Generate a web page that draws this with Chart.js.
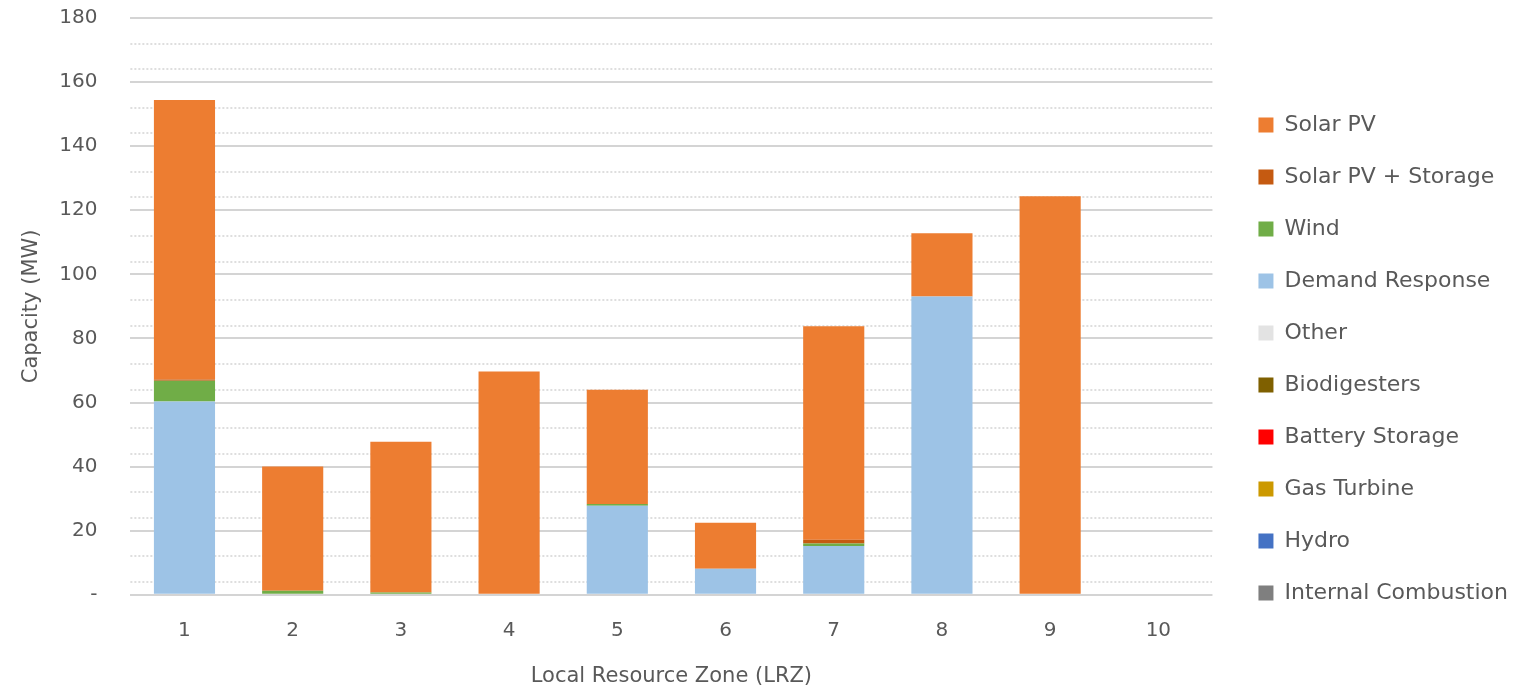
<!DOCTYPE html>
<html>
<head>
<meta charset="utf-8">
<script src="https://cdn.jsdelivr.net/npm/chart.js@4.4.1/dist/chart.umd.min.js"></script>
<style>
  html, body { margin: 0; padding: 0; background: #ffffff; }
  #wrap { width: 1515px; height: 693px; position: relative; }
</style>
</head>
<body>
<div id="wrap"><canvas id="c" width="1515" height="693"></canvas></div>
<script>
// ---- Data ----
const zones = ['1', '2', '3', '4', '5', '6', '7', '8', '9', '10'];

const internalCombustion = [0, 0, 0, 0, 0, 0, 0, 0, 0, 0];
const hydro              = [0, 0, 0, 0, 0, 0, 0, 0, 0, 0];
const gasTurbine         = [0, 0, 0, 0, 0, 0, 0, 0, 0, 0];
const batteryStorage     = [0, 0, 0, 0, 0, 0, 0, 0, 0, 0];
const biodigesters       = [0, 0, 0, 0, 0, 0, 0, 0, 0, 0];
const other              = [0, 0, 0, 0, 0, 0, 0, 0, 0, 0];
const demandResponse     = [60.3, 0, 0, 0, 27.8, 8.1, 15.2, 93.1, 0, 0];
const wind               = [6.5, 1.3, 0.7, 0, 0.5, 0, 0.8, 0, 0, 0];
const solarPvStorage     = [0.4, 0, 0, 0, 0, 0, 1.2, 0, 0, 0];
const solarPv            = [87.2, 38.7, 47.1, 69.7, 35.7, 14.4, 66.6, 19.7, 124.4, 0];

const yTickMax = 180;
const yTickStep = 20;
const yMinorStep = 4;

// ---- Style ----
const FONT = "'DejaVu Sans', 'Open Sans', sans-serif";
const TXT = '#595959';
const LEGEND_SHIFT_X = 16;
const LEGEND_SHIFT_Y = 10;

const series = [
  ['Internal Combustion', internalCombustion, '#7f7f7f'],
  ['Hydro', hydro, '#4472c4'],
  ['Gas Turbine', gasTurbine, '#cc9900'],
  ['Battery Storage', batteryStorage, '#ff0000'],
  ['Biodigesters', biodigesters, '#7f6000'],
  ['Other', other, '#e3e3e3'],
  ['Demand Response', demandResponse, '#9dc3e6'],
  ['Wind', wind, '#70ad47'],
  ['Solar PV + Storage', solarPvStorage, '#c55a11'],
  ['Solar PV', solarPv, '#ed7d31']
];

const datasets = series.map(([label, data, color]) => ({
  label, data,
  backgroundColor: color,
  borderWidth: 0,
  barPercentage: 0.565,
  categoryPercentage: 1.0
}));

const legendShift = {
  id: 'legendShift',
  afterLayout(chart) {
    const lg = chart.legend;
    if (!lg) return;
    lg.left += LEGEND_SHIFT_X; lg.right += LEGEND_SHIFT_X;
    lg.top += LEGEND_SHIFT_Y; lg.bottom += LEGEND_SHIFT_Y;
  }
};

function isMajor(v) { return Math.abs(v % yTickStep) < 1e-6; }
function pos(v) { return ((v % yTickStep) + yTickStep) % yTickStep; }
const CLEAR = 'rgba(0,0,0,0)';

new Chart(document.getElementById('c'), {
  type: 'bar',
  data: { labels: zones, datasets },
  plugins: [legendShift],
  options: {
    responsive: false,
    animation: false,
    devicePixelRatio: 1,
    layout: { padding: { left: 8, right: 13, top: 5, bottom: 0 } },
    plugins: {
      tooltip: { enabled: false },
      legend: {
        position: 'right',
        align: 'center',
        reverse: true,
        maxWidth: 340,
        labels: {
          boxWidth: 15, boxHeight: 15, padding: 30,
          color: TXT,
          font: { family: FONT, size: 22 }
        }
      }
    },
    scales: {
      x: {
        stacked: true,
        grid: { display: true, drawOnChartArea: false, drawTicks: true, tickLength: 20, tickColor: CLEAR, color: CLEAR },
        border: { display: false },
        ticks: { color: TXT, font: { family: FONT, size: 20 }, padding: 4 },
        title: {
          display: true, text: 'Local Resource Zone (LRZ)',
          color: TXT, font: { family: FONT, size: 21 },
          padding: { top: 17, bottom: 4 }
        }
      },
      y: {
        stacked: true,
        min: 0, max: yTickMax,
        border: { display: false },
        grid: {
          drawTicks: true,
          tickLength: 27,
          tickColor: CLEAR,
          color: (ctx) => {
            const v = ctx.tick ? ctx.tick.value : 0;
            if (isMajor(v)) return '#d4d4d4';
            const p = pos(v);
            return (p === 8 || p === 16) ? '#eeeeee' : CLEAR;
          },
          lineWidth: 2
        },
        ticks: {
          stepSize: yMinorStep,
          autoSkip: false,
          padding: 6,
          color: TXT,
          font: { family: FONT, size: 20 },
          callback: (v) => isMajor(v) ? (v === 0 ? '-' : String(v)) : null
        },
        title: {
          display: true, text: 'Capacity (MW)',
          color: TXT, font: { family: FONT, size: 21 },
          padding: { top: 11, bottom: 9 }
        }
      },
      y2: {
        position: 'right',
        min: 0, max: yTickMax,
        border: { display: false, dash: [2, 2] },
        grid: {
          drawTicks: false,
          color: (ctx) => {
            const v = ctx.tick ? ctx.tick.value : 0;
            const p = pos(v);
            return (p === 4 || p === 12) ? '#dedede' : CLEAR;
          },
          lineWidth: 2
        },
        ticks: { display: false, stepSize: yMinorStep, autoSkip: false }
      }
    }
  }
});
</script>
</body>
</html>
